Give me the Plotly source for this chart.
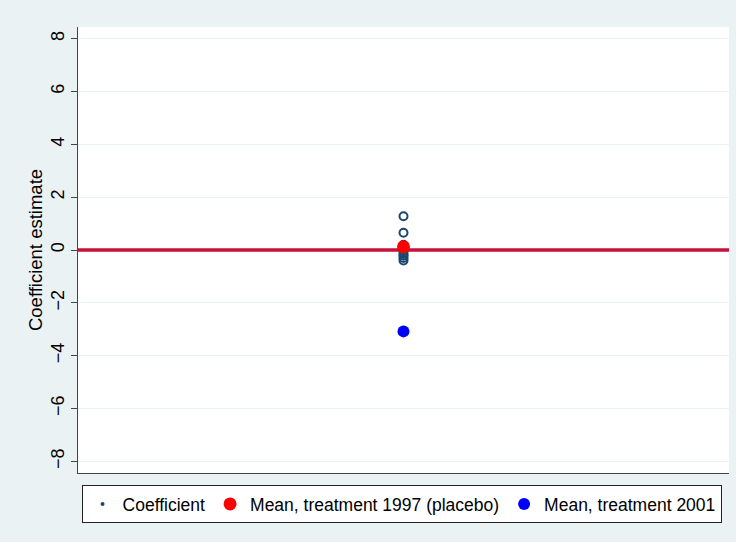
import plotly.graph_objects as go

# Coefficient estimates from the placebo runs
coef_values = [1.28, 0.65, 0.20, 0.12, 0.05, -0.05, -0.15, -0.22, -0.30, -0.40]
mean_1997 = 0.12
mean_2001 = -3.08
y_ticks = [-8, -6, -4, -2, 0, 2, 4, 6, 8]
y_tick_text = ["\u22128", "\u22126", "\u22124", "\u22122", "0", "2", "4", "6", "8"]
x_range = [0, 2]
zero_level = 0

NAVY = "#1A476F"
BG = "#EAF2F3"
FONT = "Liberation Sans, Arial, sans-serif"

fig = go.Figure()

# Zero reference line, first so the markers sit on top of it
fig.add_trace(go.Scatter(
    x=x_range, y=[zero_level, zero_level], mode="lines",
    line=dict(color="#C4123A", width=3.5), showlegend=False, hoverinfo="skip",
))

# Individual coefficients (hollow circles)
fig.add_trace(go.Scatter(
    x=[1] * len(coef_values), y=coef_values, mode="markers",
    marker=dict(symbol="circle-open", size=8, color=NAVY, line=dict(width=2, color=NAVY)),
    showlegend=False, hoverinfo="y",
))
# Legend key for coefficients (small dot)
fig.add_trace(go.Scatter(
    x=[None], y=[None], mode="markers", name="Coefficient",
    marker=dict(symbol="circle", size=4, color=NAVY),
))

fig.add_trace(go.Scatter(
    x=[1], y=[mean_1997], mode="markers", name="Mean, treatment 1997 (placebo)",
    marker=dict(symbol="circle", size=13, color="#FF0000"),
))
fig.add_trace(go.Scatter(
    x=[1], y=[mean_2001], mode="markers", name="Mean, treatment 2001",
    marker=dict(symbol="circle", size=12, color="#0000FF"),
))

fig.update_layout(
    width=736, height=542,
    margin=dict(l=78, r=7, t=27, b=69),
    paper_bgcolor=BG, plot_bgcolor="white",
    font=dict(family=FONT, size=18, color="black"),
    legend=dict(
        orientation="h", x=0.497, xanchor="center", y=-0.027, yanchor="top",
        bgcolor="white", bordercolor="#222222", borderwidth=1,
        font=dict(size=17.5), itemsizing="trace", itemwidth=30,
        tracegroupgap=0,
    ),
    xaxis=dict(
        range=x_range, showticklabels=False, ticks="", showgrid=False,
        zeroline=False, showline=True, linecolor="#444444", linewidth=1,
    ),
    yaxis=dict(
        range=[-8.44, 8.44], tickvals=y_ticks, ticktext=y_tick_text,
        tickangle=-90, ticks="outside", ticklen=6, tickcolor="#444444",
        showgrid=True, gridcolor=BG, gridwidth=1, zeroline=False,
        showline=True, linecolor="#444444", linewidth=1,
        tickfont=dict(size=18),
        title=dict(text="Coefficient estimate", font=dict(size=18.5), standoff=0),
    ),
)

fig.write_html("out.html")
